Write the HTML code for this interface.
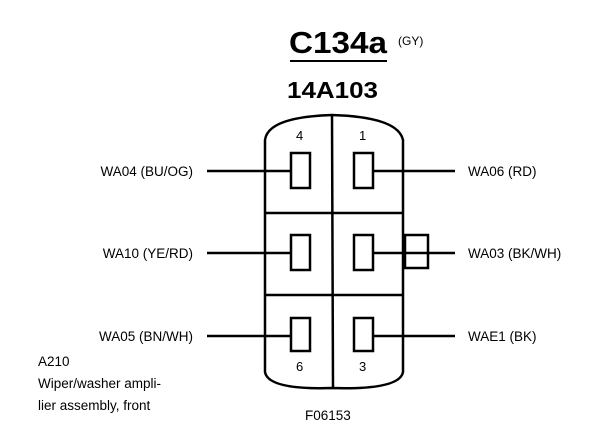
<!DOCTYPE html>
<html><head><style>
html,body{margin:0;padding:0;background:#fff;}
svg{display:block;}
text{font-family:"Liberation Sans",Arial,sans-serif;fill:#000;}
</style></head><body>
<svg width="608" height="426" viewBox="0 0 608 426">
<text x="289" y="53" font-size="31" font-weight="bold" textLength="98" lengthAdjust="spacingAndGlyphs">C134a</text>
<text x="398" y="45" font-size="12">(GY)</text>
<line x1="290" y1="61" x2="387" y2="61" stroke="#000" stroke-width="2"/>
<text x="287" y="98" font-size="23" font-weight="bold" textLength="91" lengthAdjust="spacingAndGlyphs">14A103</text>
<g fill="none" stroke="#000" stroke-width="2.5">
<path d="M265 372 L265 140 Q268 117 332 115 Q398 117 403 140 L403 372 Q400 390 332 388 Q268 390 265 372 Z"/>
<line x1="332" y1="115" x2="333" y2="388"/>
<line x1="266" y1="213" x2="403" y2="213"/>
<line x1="266" y1="295" x2="403" y2="295"/>
<rect x="291" y="153" width="19" height="35"/>
<rect x="354" y="153" width="19" height="35"/>
<rect x="291" y="235" width="19" height="35"/>
<rect x="354" y="235" width="19" height="35"/>
<rect x="291" y="318" width="19" height="33"/>
<rect x="354" y="318" width="19" height="33"/>
<rect x="405" y="235" width="23" height="33"/>
<line x1="207" y1="171" x2="291" y2="171"/>
<line x1="207" y1="253" x2="291" y2="253"/>
<line x1="207" y1="336" x2="291" y2="336"/>
<line x1="373" y1="171" x2="455" y2="171"/>
<line x1="373" y1="253" x2="455" y2="253"/>
<line x1="373" y1="336" x2="455" y2="336"/>
</g>
<text x="296" y="140" font-size="13">4</text>
<text x="359" y="140" font-size="13">1</text>
<text x="296" y="371" font-size="13">6</text>
<text x="359" y="371" font-size="13">3</text>
<g font-size="13.5">
<text x="193" y="176" text-anchor="end">WA04 (BU/OG)</text>
<text x="193" y="258" text-anchor="end">WA10 (YE/RD)</text>
<text x="193" y="341" text-anchor="end">WA05 (BN/WH)</text>
<text x="468" y="176">WA06 (RD)</text>
<text x="468" y="258">WA03 (BK/WH)</text>
<text x="468" y="341">WAE1 (BK)</text>
<text x="38" y="366">A210</text>
<text x="38" y="388">Wiper/washer ampli-</text>
<text x="38" y="410">lier assembly, front</text>
<text x="305" y="420">F06153</text>
</g>
</svg>
</body></html>
